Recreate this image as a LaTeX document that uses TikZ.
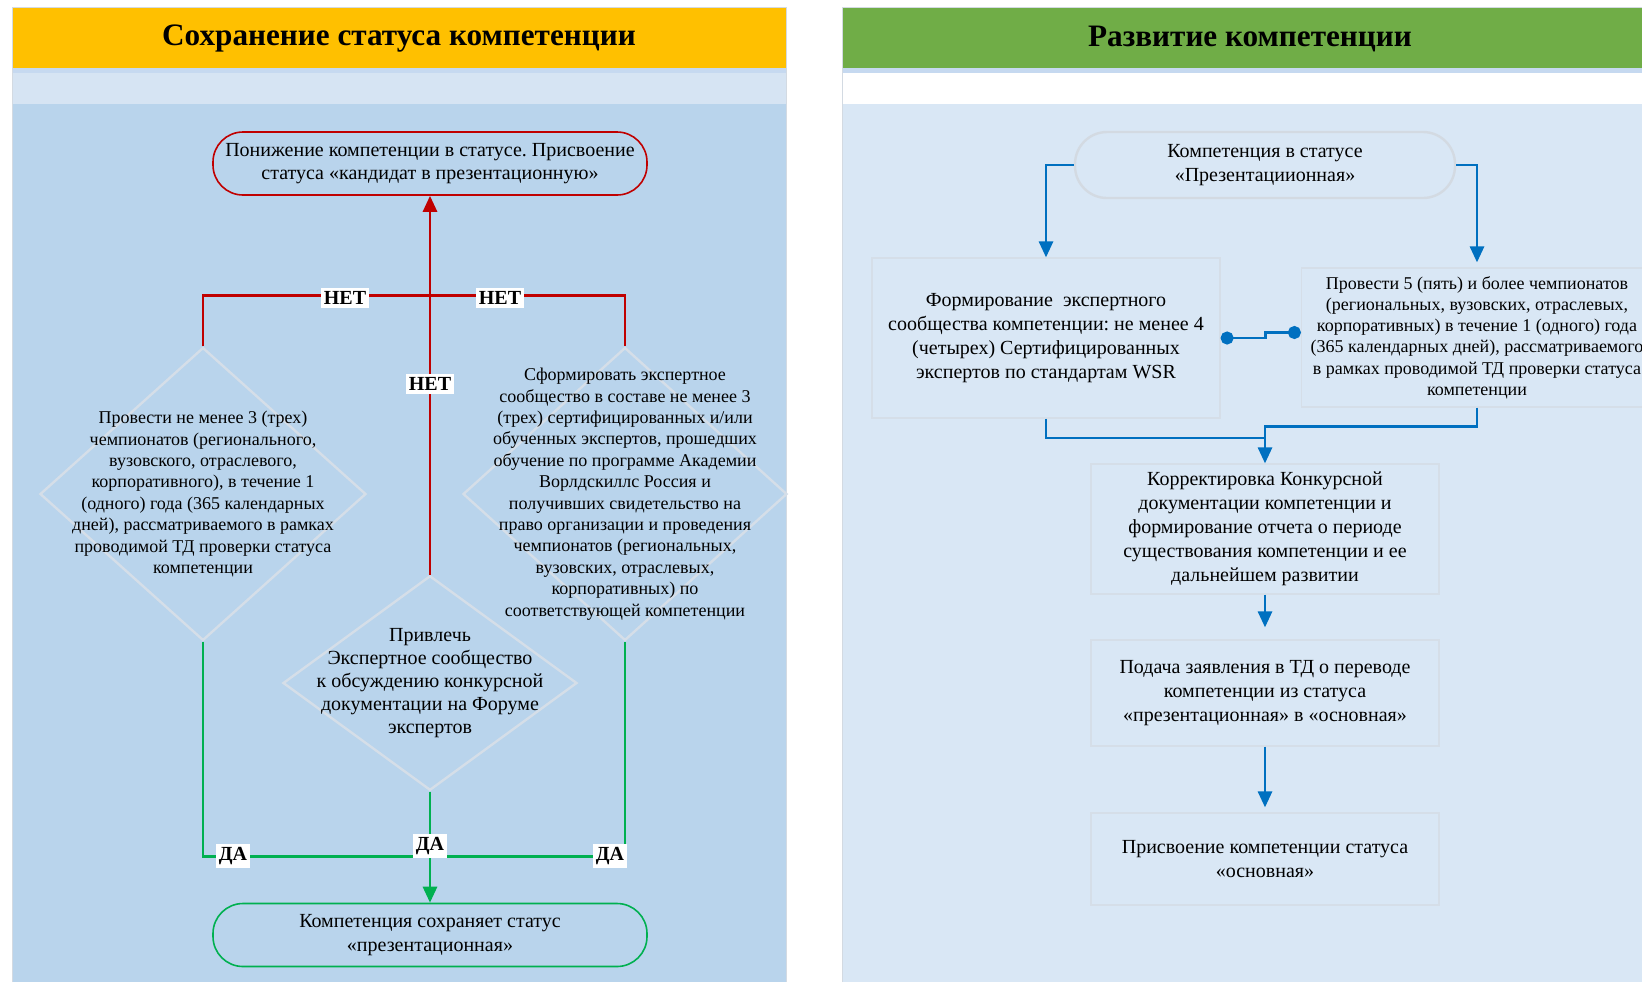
\documentclass[tikz,border=0pt]{standalone}
\usepackage{fontspec}
\setmainfont{Liberation Serif}
\frenchspacing
\usetikzlibrary{arrows.meta, positioning, shapes.geometric}

\definecolor{hdryellow}{HTML}{FFC000}
\definecolor{hdrgreen}{HTML}{70AD47}
\definecolor{leftbody}{HTML}{B9D4EC}
\definecolor{leftband}{HTML}{D6E4F3}
\definecolor{rightbody}{HTML}{D9E7F5}
\definecolor{strip}{HTML}{C6D9F0}
\definecolor{frame}{HTML}{D3DAE2}
\definecolor{nored}{HTML}{C00000}
\definecolor{yesgreen}{HTML}{00B050}
\definecolor{flowblue}{HTML}{0070C0}
\definecolor{outline}{HTML}{D5DEE8}

\begin{document}
\begin{tikzpicture}[x=0.5pt, y=-0.5pt, >={Triangle[length=8pt, width=7pt]},
    font=\fontsize{9}{10.7}\selectfont]
    \tikzstyle{term} = [draw, line width=0.8pt, rounded corners=15pt, minimum width=217pt, minimum height=31.5pt, align=center, font=\fontsize{10}{11.8}\selectfont]
    \tikzstyle{decision} = [diamond, draw=outline, line width=1.2pt, inner sep=0pt]
    \tikzstyle{dtext} = [align=center]
    \tikzstyle{stepbox} = [draw=outline, line width=0.6pt, align=center, font=\fontsize{10}{12}\selectfont]
    \tikzstyle{answer} = [fill=white, inner sep=1.5pt, font=\bfseries\fontsize{10}{10}\selectfont]
    \tikzstyle{header} = [font=\bfseries\fontsize{15.6}{15.6}\selectfont]
    \tikzstyle{nowire} = [nored, line width=1.4pt]
    \tikzstyle{yeswire} = [yesgreen, line width=1.4pt]
    \tikzstyle{wire} = [flowblue, line width=1.4pt]
    \useasboundingbox (0,0) rectangle (1642,982);
    \clip (0,0) rectangle (1642,982);
    \fill[white] (0,0) rectangle (1642,982);
    % left panel
    \fill[leftbody] (12,7) rectangle (786,982);
    \fill[leftband] (12,71) rectangle (786,104);
    \fill[strip] (12,68) rectangle (786,73);
    \fill[hdryellow] (12,7) rectangle (786,68);
    \draw[frame] (12,982) -- (12,7) -- (786,7) -- (786,982);
    \node[header] (h1) at (399,39) {Сохранение статуса компетенции};
    % right panel
    \fill[rightbody] (842,104) rectangle (1652,982);
    \fill[strip] (842,68) rectangle (1652,73);
    \fill[hdrgreen] (842,7) rectangle (1652,68);
    \draw[frame] (842,982) -- (842,7) -- (1652,7);
    \node[header] (h2) at (1250,39) {Развитие компетенции};

    \node[term, draw=nored] (1) at (430,163.5) {Понижение компетенции в статусе. Присвоение\\статуса «кандидат в презентационную»};
    \node[decision, minimum width=163pt, minimum height=146.5pt] (2) at (203,494) {};
    \node[decision, minimum width=162pt, minimum height=146.5pt] (7) at (625,494) {};
    \node[decision, minimum width=147pt, minimum height=107.3pt] (8) at (430,683) {};
    \node[dtext] (2t) at (2) {Провести не менее 3 (трех)\\чемпионатов (регионального,\\вузовского, отраслевого,\\корпоративного), в течение 1\\(одного) года (365 календарных\\дней), рассматриваемого в рамках\\проводимой ТД проверки статуса\\компетенции};
    \node[dtext] (7t) at (7) {Сформировать экспертное\\сообщество в составе не менее 3\\(трех) сертифицированных и/или\\обученных экспертов, прошедших\\обучение по программе Академии\\Ворлдскиллс Россия и\\получивших свидетельство на\\право организации и проведения\\чемпионатов (региональных,\\вузовских, отраслевых,\\корпоративных) по\\соответствующей компетенции};
    \node[dtext, font=\fontsize{10}{11.5}\selectfont] (8t) at (8) {Привлечь\\Экспертное сообщество\\к обсуждению конкурсной\\документации на Форуме\\экспертов};
    \node[term, draw=yesgreen] (10) at (430,935) {Компетенция сохраняет статус\\«презентационная»};

    \draw[nowire, ->] (8.north) -- (1.south);
    \draw[nowire] (2.north) -- ++(0,-51) -| (7.north);
    \draw[yeswire] (2.south) -- ++(0,215) -| (7.south);
    \draw[yeswire, ->] (8.south) -- (10.north);
    \node[answer] (n1) at (345,298) {НЕТ};
    \node[answer] (n2) at (500,298) {НЕТ};
    \node[answer] (n3) at (430,384) {НЕТ};
    \node[answer] (y1) at (233,856) {ДА};
    \node[answer] (y2) at (430,846) {ДА};
    \node[answer] (y3) at (610,856) {ДА};

    \node[term, draw=frame, line width=1.2pt, minimum width=190pt, minimum height=33pt, rounded corners=16pt] (3) at (1265,165) {Компетенция в статусе\\«Презентациионная»};
    \node[stepbox, minimum width=174pt, minimum height=80pt] (4) at (1046,338) {Формирование~ экспертного\\сообщества компетенции: не менее 4\\(четырех) Сертифицированных\\экспертов по стандартам WSR};
    \node[stepbox, minimum width=175.5pt, minimum height=69.5pt, font=\fontsize{9}{10.6}\selectfont] (5) at (1477,337.5) {Провести 5 (пять) и более чемпионатов\\(региональных, вузовских, отраслевых,\\корпоративных) в течение 1 (одного) года\\(365 календарных дней), рассматриваемого\\в рамках проводимой ТД проверки статуса\\компетенции};
    \node[stepbox, minimum width=174pt, minimum height=65pt] (6) at (1265,529) {Корректировка Конкурсной\\документации компетенции и\\формирование отчета о периоде\\существования компетенции и ее\\дальнейшем развитии};
    \node[stepbox, minimum width=174pt, minimum height=53pt] (11) at (1265,693) {Подача заявления в ТД о переводе\\компетенции из статуса\\«презентационная» в «основная»};
    \node[stepbox, minimum width=174pt, minimum height=46pt] (12) at (1265,859) {Присвоение компетенции статуса\\«основная»};
    \coordinate (j) at (1265,438);
    \draw[wire, ->] (3.west) -| (4.north);
    \draw[wire, ->, shorten >=2.5pt] (3.east) -| (5.north);
    \draw[wire, {Circle[length=6.5pt]}-{Circle[length=6.5pt]}] (4.east) -- ++(45,0) |- ([yshift=2.5pt]5.west);
    \draw[wire, ->] (4.south) |- (j) -- (6.north);
    \draw[wire] (5.south) -- ++(0,19) -| (j);
    \draw[wire, ->, shorten >=6pt] (6.south) -- (11.north);
    \draw[wire, ->, shorten >=2.5pt] (11.south) -- (12.north);
\end{tikzpicture}
\end{document}
